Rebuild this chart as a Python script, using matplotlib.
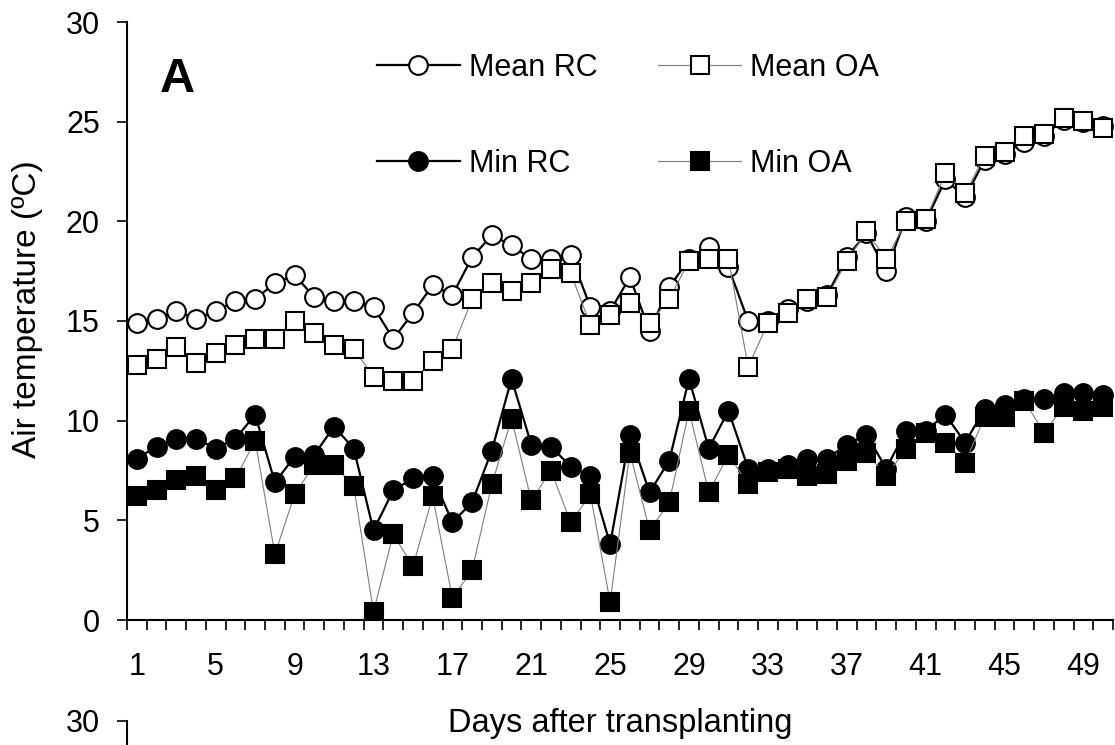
import matplotlib
matplotlib.use("Agg")
import matplotlib.pyplot as plt
import numpy as np

plt.rcParams["font.family"] = ["Liberation Sans", "DejaVu Sans"]

days = list(range(1, 51))
x_tick_labels = [1, 5, 9, 13, 17, 21, 25, 29, 33, 37, 41, 45, 49]
y_ticks = [0, 5, 10, 15, 20, 25, 30]

mean_rc = [14.9, 15.1, 15.5, 15.1, 15.5, 16.0, 16.1, 16.9, 17.3, 16.2,
           16.0, 16.0, 15.7, 14.1, 15.4, 16.8, 16.3, 18.2, 19.3, 18.8,
           18.1, 18.1, 18.3, 15.7, 15.5, 17.2, 14.5, 16.7, 18.1, 18.7,
           17.7, 15.0, 15.0, 15.6, 16.0, 16.3, 18.2, 19.4, 17.5, 20.2,
           20.0, 22.1, 21.2, 23.1, 23.4, 24.0, 24.3, 25.1, 25.0, 24.8]
mean_oa = [12.8, 13.1, 13.7, 12.9, 13.4, 13.8, 14.1, 14.1, 15.0, 14.4,
           13.8, 13.6, 12.2, 12.0, 12.0, 13.0, 13.6, 16.1, 16.9, 16.5,
           16.9, 17.6, 17.4, 14.8, 15.3, 15.9, 14.9, 16.1, 18.0, 18.1,
           18.1, 12.7, 14.9, 15.4, 16.1, 16.2, 18.0, 19.5, 18.1, 20.0,
           20.1, 22.4, 21.4, 23.3, 23.5, 24.3, 24.4, 25.2, 25.05, 24.7]
min_rc = [8.1, 8.7, 9.1, 9.1, 8.6, 9.1, 10.3, 6.9, 8.2, 8.3,
          9.7, 8.6, 4.5, 6.5, 7.1, 7.2, 4.9, 5.9, 8.5, 12.1,
          8.8, 8.7, 7.7, 7.2, 3.8, 9.3, 6.4, 8.0, 12.1, 8.6,
          10.5, 7.6, 7.6, 7.8, 8.1, 8.1, 8.8, 9.3, 7.6, 9.5,
          9.5, 10.3, 8.9, 10.6, 10.8, 11.1, 11.1, 11.4, 11.4, 11.3]
min_oa = [6.2, 6.5, 7.0, 7.2, 6.5, 7.1, 9.0, 3.3, 6.3, 7.8,
          7.8, 6.7, 0.4, 4.3, 2.7, 6.2, 1.1, 2.5, 6.8, 10.1,
          6.0, 7.5, 4.9, 6.3, 0.9, 8.4, 4.5, 5.9, 10.5, 6.4,
          8.3, 6.8, 7.4, 7.6, 7.2, 7.3, 8.0, 8.4, 7.2, 8.6,
          9.4, 8.9, 7.9, 10.2, 10.2, 11.0, 9.4, 10.7, 10.5, 10.7]

W, H = 1115, 745
fig = plt.figure(figsize=(W / 100, H / 100), dpi=100)

left_px, right_px, top_px, bottom_px = 127, 1113, 22, 620
ax = fig.add_axes([left_px / W, 1 - bottom_px / H,
                   (right_px - left_px) / W, (bottom_px - top_px) / H])

ms = 13.5
rc_line = dict(color="black", lw=1.6, markeredgecolor="black", markeredgewidth=1.5, ms=ms)
oa_line = dict(color="#7f7f7f", lw=0.8, markeredgecolor="black", markeredgewidth=1.5, ms=ms)

h1, = ax.plot(days, mean_rc, marker="o", markerfacecolor="white", label="Mean RC", zorder=3, **rc_line)
h3, = ax.plot(days, min_rc, marker="o", markerfacecolor="black", label="Min RC", zorder=3, **rc_line)
h2, = ax.plot(days, mean_oa, marker="s", markerfacecolor="white", label="Mean OA", zorder=4, **oa_line)
h4, = ax.plot(days, min_oa, marker="s", markerfacecolor="black", label="Min OA", zorder=4, **oa_line)

ax.set_xlim(0.5, 50.5)
ax.set_ylim(0, 30)
for s in ("top", "right"):
    ax.spines[s].set_visible(False)
for s in ("left", "bottom"):
    ax.spines[s].set_linewidth(1.5)

tick_fs = 22
ax.set_xticks(x_tick_labels)
ax.set_xticklabels([str(v) for v in x_tick_labels])
ax.set_xticks(np.arange(0.5, 51, 1.0), minor=True)
ax.tick_params(axis="x", which="major", length=0, pad=23, labelsize=tick_fs)
ax.tick_params(axis="x", which="minor", length=7.5, width=1.2, direction="out")
ax.set_yticks(y_ticks)
ax.tick_params(axis="y", which="major", length=7.5, width=1.2, direction="out", pad=12, labelsize=tick_fs)

ax.set_xlabel("Days after transplanting", fontsize=23.5)
ax.xaxis.set_label_coords(0.5, (bottom_px - 708) / (bottom_px - top_px))
ax.xaxis.label.set_va("top")
ax.set_ylabel("Air temperature (ºC)", fontsize=24)
ax.yaxis.set_label_coords((43 - left_px) / (right_px - left_px), 0.52)

ax.text((160 - left_px) / (right_px - left_px), (bottom_px - 92) / (bottom_px - top_px),
        "A", transform=ax.transAxes, fontsize=35, fontweight="bold", va="baseline", ha="left")

fig.legend(handles=[h1, h3, h2, h4], ncol=2, frameon=False, fontsize=22,
           loc="upper left", bbox_to_anchor=(377 / W, 1 - 53 / H),
           borderpad=0, borderaxespad=0, handlelength=2.7, handletextpad=0.3,
           labelspacing=2.15, columnspacing=2.0)

# top edge of the next panel below
ax2 = fig.add_axes([left_px / W, 1 - (721 + 598) / H,
                    (right_px - left_px) / W, 598 / H])
ax2.set_ylim(0, 30)
ax2.set_yticks([30])
ax2.set_xticks([])
for s in ("top", "right", "bottom"):
    ax2.spines[s].set_visible(False)
ax2.spines["left"].set_linewidth(1.5)
ax2.tick_params(axis="y", length=7.5, width=1.2, direction="out", pad=12, labelsize=tick_fs)
ax2.patch.set_alpha(0)

fig.savefig("out.png", dpi=100)
